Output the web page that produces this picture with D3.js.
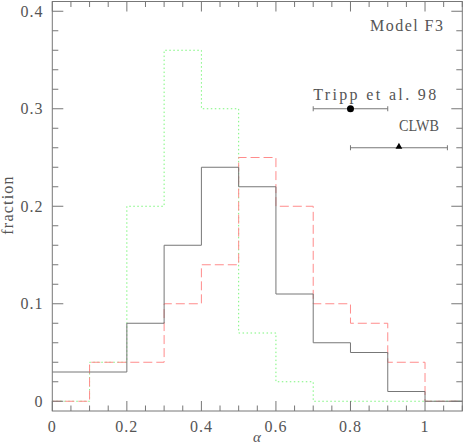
<!DOCTYPE html>
<html><head><meta charset="utf-8">
<script src="https://cdn.jsdelivr.net/npm/d3@7"></script>
<style>html,body{margin:0;padding:0;background:#fff;}svg{display:block;}</style>
</head><body>
<script>
// Data
const binEdges = [0,0.1,0.2,0.3,0.4,0.5,0.6,0.7,0.8,0.9,1.0,1.1];
const blackSolid = [0.03,0.03,0.08,0.16,0.24,0.22,0.11,0.06,0.05,0.01,0.0];
const redDashed  = [0.0,0.04,0.04,0.10,0.14,0.25,0.20,0.10,0.08,0.04,0.0];
const greenDotted= [0.0,0.04,0.20,0.36,0.30,0.07,0.02,0.0,0.0,0.0,0.0];
const xTicks = [0,0.2,0.4,0.6,0.8,1];
const yTicks = [0,0.1,0.2,0.3,0.4];
const obsTripp = {label:"Tripp et al. 98", x:0.80, lo:0.70, hi:0.90, y:0.30};
const obsCLWB  = {label:"CLWB", x:0.93, lo:0.80, hi:1.06, y:0.26};

const W=463,H=447;
const L=52.3,R=462.3,T=1.5,B=411;
const x=d3.scaleLinear().domain([0,1.1]).range([L,R]);
const y=d3.scaleLinear().domain([-0.01,0.41]).range([B,T]);

const svg=d3.select("body").append("svg").attr("width",W).attr("height",H);
const axC="#777", txtC="#555";
const font="'Liberation Serif', serif";

function stepPts(vals){
  const pts=[];
  vals.forEach((v,i)=>{pts.push([binEdges[i],v]);pts.push([binEdges[i+1],v]);});
  return pts;
}
const line=d3.line().x(d=>x(d[0])).y(d=>y(d[1]));

svg.append("path").attr("d",line(stepPts(greenDotted))).attr("fill","none")
  .attr("stroke","#7cf57c").attr("stroke-width",1).attr("stroke-dasharray","1.5,2.5");
svg.append("path").attr("d",line(stepPts(redDashed))).attr("fill","none")
  .attr("stroke","#ff8c8c").attr("stroke-width",1).attr("stroke-dasharray","9,4");
svg.append("path").attr("d",line(stepPts(blackSolid))).attr("fill","none")
  .attr("stroke","#777").attr("stroke-width",1);

// frame
svg.append("rect").attr("x",L).attr("y",T).attr("width",R-L).attr("height",B-T)
  .attr("fill","none").attr("stroke",axC).attr("stroke-width",1);

// ticks
const g=svg.append("g").attr("stroke",axC).attr("stroke-width",1);
d3.range(0,1.1001,0.05).forEach(v=>{
  const major=Math.abs(v/0.2-Math.round(v/0.2))<1e-6;
  const len=major?10:5.5;
  g.append("line").attr("x1",x(v)).attr("x2",x(v)).attr("y1",B).attr("y2",B-len);
  g.append("line").attr("x1",x(v)).attr("x2",x(v)).attr("y1",T).attr("y2",T+len);
});
d3.range(0,0.4101,0.02).forEach(v=>{
  const major=Math.abs(v/0.1-Math.round(v/0.1))<1e-6;
  const len=major?11:6;
  g.append("line").attr("y1",y(v)).attr("y2",y(v)).attr("x1",L).attr("x2",L+len);
  g.append("line").attr("y1",y(v)).attr("y2",y(v)).attr("x1",R).attr("x2",R-len);
});

const fmt=v=>v===0?"0":(v===1?"1":String(v));
svg.selectAll(".xt").data(xTicks).enter().append("text")
  .attr("x",d=>x(d)).attr("y",431.5).attr("text-anchor","middle")
  .attr("font-family",font).attr("font-size",16).attr("fill",txtC).attr("letter-spacing",1)
  .text(fmt);
svg.selectAll(".yt").data(yTicks).enter().append("text")
  .attr("x",43.5).attr("y",d=>y(d)+5.5).attr("text-anchor","end")
  .attr("font-family",font).attr("font-size",16).attr("fill",txtC).attr("letter-spacing",1)
  .text(fmt);

svg.append("text").attr("transform","translate(13,205) rotate(-90)").attr("text-anchor","middle")
  .attr("font-family",font).attr("font-size",16).attr("fill",txtC).attr("letter-spacing",1.2)
  .text("fraction");
svg.append("text").attr("x",257).attr("y",442).attr("text-anchor","middle")
  .attr("font-family",font).attr("font-size",15).attr("font-style","italic").attr("fill",txtC)
  .text("α");

svg.append("text").attr("x",443).attr("y",30.5).attr("text-anchor","end")
  .attr("font-family",font).attr("font-size",16).attr("fill",txtC)
  .attr("textLength",73).attr("lengthAdjust","spacing").text("Model F3");

// observations
[obsTripp,obsCLWB].forEach(o=>{
  const yy=y(o.y);
  g.append("line").attr("x1",x(o.lo)).attr("x2",x(o.hi)).attr("y1",yy).attr("y2",yy);
  g.append("line").attr("x1",x(o.lo)).attr("x2",x(o.lo)).attr("y1",yy-2.5).attr("y2",yy+2.5);
  g.append("line").attr("x1",x(o.hi)).attr("x2",x(o.hi)).attr("y1",yy-2.5).attr("y2",yy+2.5);
});
svg.append("circle").attr("cx",x(obsTripp.x)).attr("cy",y(obsTripp.y)).attr("r",3.5).attr("fill","#000");
svg.append("path").attr("d",d3.symbol().type(d3.symbolTriangle).size(20)())
  .attr("transform",`translate(${x(obsCLWB.x)},${y(obsCLWB.y)-1})`).attr("fill","#000");

svg.append("text").attr("x",x(obsTripp.lo)).attr("y",y(obsTripp.y)-8.5)
  .attr("font-family",font).attr("font-size",16).attr("fill",txtC)
  .attr("textLength",123).attr("lengthAdjust","spacing").text(obsTripp.label);
svg.append("text").attr("x",x(obsCLWB.x)).attr("y",y(obsCLWB.y)-17)
  .attr("font-family",font).attr("font-size",16).attr("fill",txtC)
  .attr("textLength",40).attr("lengthAdjust","spacingAndGlyphs").text(obsCLWB.label);
</script>
</body></html>
